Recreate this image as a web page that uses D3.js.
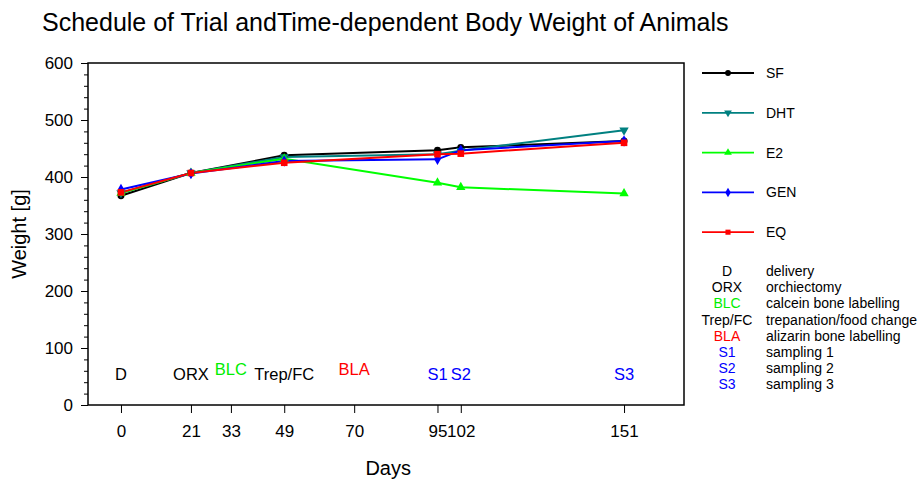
<!DOCTYPE html>
<html>
<head>
<meta charset="utf-8">
<script src="https://cdn.jsdelivr.net/npm/d3@7"></script>
<style>
  body { margin: 0; background: #fff; }
  svg { font-family: "Liberation Sans", Arial, sans-serif; }
</style>
</head>
<body>
<svg id="chart" width="920" height="481"></svg>
<script>
// Data
var days = [0, 21, 49, 95, 102, 151];
var tickDays = [0, 21, 33, 49, 70, 95, 102, 151];
var seriesNames = ["SF", "DHT", "E2", "GEN", "EQ"];
var sf  = [367, 407, 438, 447, 452, 463];
var dht = [372, 407, 435, 440, 446, 482];
var e2  = [372, 407, 432, 390, 382, 371];
var gen = [378, 406, 428, 431, 447, 463];
var eq  = [373, 407, 425, 440, 441, 460];
var eventNames = ["D", "ORX", "BLC", "Trep/FC", "BLA", "S1", "S2", "S3"];
var eventDays  = [0, 21, 33, 49, 70, 95, 102, 151];
var eventDesc  = ["delivery", "orchiectomy", "calcein bone labelling", "trepanation/food change",
                  "alizarin bone labelling", "sampling 1", "sampling 2", "sampling 3"];

var colors = { SF: "#000000", DHT: "#008080", E2: "#00ff00", GEN: "#0000ff", EQ: "#ff0000" };
var symbols = { SF: d3.symbolCircle, DHT: d3.symbolTriangle, E2: d3.symbolTriangle, GEN: d3.symbolDiamond, EQ: d3.symbolSquare };
var eventColors = ["#000", "#000", "#00ee00", "#000", "#ff0000", "#0000ff", "#0000ff", "#0000ff"];

var values = { SF: sf, DHT: dht, E2: e2, GEN: gen, EQ: eq };

var margin = { left: 88, top: 63, right: 236, bottom: 76 };
var width = 920 - margin.left - margin.right;
var height = 481 - margin.top - margin.bottom;

var svg = d3.select("#chart");

// Titel
svg.append("text")
    .attr("x", 42).attr("y", 31)
    .style("font-size", "25px")
    .text("Schedule of Trial andTime-dependent Body Weight of Animals");

var g = svg.append("g").attr("transform", "translate(" + margin.left + "," + margin.top + ")");

var x = d3.scaleLinear().domain([-9.9, 169]).range([0, width]);
var y = d3.scaleLinear().domain([0, 600]).range([height, 0]);

// Ramme
g.append("rect")
    .attr("width", width).attr("height", height)
    .attr("fill", "none").attr("stroke", "#000").attr("stroke-width", 1.5);

// Y-akse med små ticks
g.append("g")
    .attr("class", "y minor")
    .call(d3.axisLeft(y).tickValues(d3.range(0, 601, 20)).tickSize(4).tickFormat(""))
    .call(function (s) { s.select(".domain").remove(); });

g.append("g")
    .attr("class", "y axis")
    .call(d3.axisLeft(y).tickValues(d3.range(0, 601, 100)).tickSize(7).tickPadding(8))
    .call(function (s) {
        s.select(".domain").remove();
        s.selectAll("text").style("font-size", "17px").attr("fill", "#000");
    });

// X-akse
g.append("g")
    .attr("class", "x axis")
    .attr("transform", "translate(0," + height + ")")
    .call(d3.axisBottom(x).tickValues(tickDays).tickSize(8).tickPadding(12).tickSizeOuter(0))
    .call(function (s) {
        s.select(".domain").remove();
        s.selectAll("text").style("font-size", "17px").attr("fill", "#000");
    });

// Aksetitler
svg.append("text")
    .attr("transform", "translate(26," + (margin.top + height / 2) + ") rotate(-90)")
    .attr("text-anchor", "middle")
    .style("font-size", "20px")
    .text("Weight [g]");

svg.append("text")
    .attr("x", margin.left + x(70) + 34).attr("y", 475)
    .attr("text-anchor", "middle")
    .style("font-size", "20px")
    .text("Days");

// Hendelser inne i plottet
g.selectAll(".event")
    .data(eventNames)
    .enter().append("text")
    .attr("class", "event")
    .attr("x", function (d, i) { return x(eventDays[i]); })
    .attr("y", function (d, i) { return (d === "BLC" || d === "BLA") ? y(53) : y(44); })
    .attr("text-anchor", "middle")
    .attr("fill", function (d, i) { return eventColors[i]; })
    .style("font-size", "16.5px")
    .text(function (d) { return d; });

// Linjer
var line = d3.line()
    .x(function (d, i) { return x(days[i]); })
    .y(function (d) { return y(d); });

seriesNames.forEach(function (name) {
    g.append("path")
        .datum(values[name])
        .attr("fill", "none")
        .attr("stroke", colors[name])
        .attr("stroke-width", 2)
        .attr("d", line);
});

seriesNames.forEach(function (name) {
    g.selectAll(".pt-" + name)
        .data(values[name])
        .enter().append("path")
        .attr("transform", function (d, i) {
            return "translate(" + x(days[i]) + "," + y(d) + ")" + (name === "DHT" ? " rotate(180)" : "");
        })
        .attr("d", d3.symbol().type(symbols[name]).size(name === "EQ" ? 44 : 38))
        .attr("fill", colors[name]);
});

// Legende
var legend = svg.append("g").attr("transform", "translate(702,73)");
var legendStep = 39.8;
seriesNames.forEach(function (name, i) {
    var row = legend.append("g").attr("transform", "translate(0," + (i * legendStep) + ")");
    row.append("line")
        .attr("x1", 0).attr("x2", 52)
        .attr("stroke", colors[name]).attr("stroke-width", 1.8);
    row.append("path")
        .attr("transform", "translate(26,0)" + (name === "DHT" ? " rotate(180)" : ""))
        .attr("d", d3.symbol().type(symbols[name]).size(26))
        .attr("fill", colors[name]);
    row.append("text")
        .attr("x", 64).attr("y", 5)
        .style("font-size", "14px")
        .text(name);
});

// Forklaringstabell
var table = svg.append("g").attr("transform", "translate(0,276)");
eventNames.forEach(function (name, i) {
    table.append("text")
        .attr("x", 727).attr("y", i * 16.2)
        .attr("text-anchor", "middle")
        .attr("fill", eventColors[i])
        .style("font-size", "14px")
        .text(name);
    table.append("text")
        .attr("x", 766).attr("y", i * 16.2)
        .style("font-size", "14px")
        .text(eventDesc[i]);
});
</script>
</body>
</html>
